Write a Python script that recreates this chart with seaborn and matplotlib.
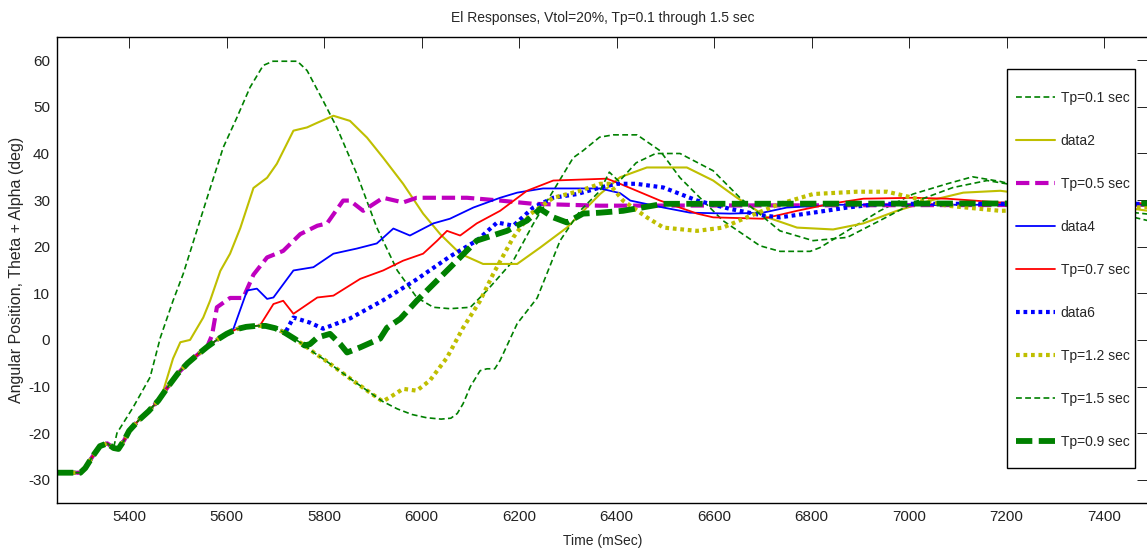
import numpy as np
import pandas as pd
import matplotlib
matplotlib.use("Agg")
import matplotlib.pyplot as plt
from matplotlib.patches import Rectangle
import seaborn as sns

# Shared early response (all runs coincide until they branch off)
base_t = [5252, 5300, 5310, 5325, 5340, 5355, 5368, 5378, 5390, 5400, 5420, 5440,
          5460, 5480, 5500, 5520, 5540, 5560, 5580, 5600, 5620, 5640, 5660, 5680,
          5700, 5720, 5740, 5760, 5780, 5800, 5830, 5860, 5890, 5920, 5950, 5980,
          6010, 6040, 6060]
base_y = [-28.5, -28.5, -27.5, -25.0, -22.8, -22.2, -23.2, -23.4, -21.5, -19.5, -17.2, -15.3,
          -13.0, -10.0, -7.2, -5.0, -3.2, -1.5, 0.0, 1.3, 2.3, 2.8, 3.0, 3.0,
          2.5, 1.5, 0.2, -1.2, -2.8, -4.2, -6.5, -8.8, -11.0, -13.2, -14.8, -16.0,
          -16.7, -17.0, -16.8]

# Each run after it leaves the shared response
tp01_t = [5375, 5408, 5443, 5464, 5490, 5511, 5560, 5593, 5621, 5648, 5675, 5695, 5745,
          5765, 5798, 5826, 5867, 5908, 5950, 5990, 6024, 6058, 6100, 6134, 6188, 6229,
          6270, 6311, 6331, 6365, 6393, 6442, 6489, 6530, 6571, 6618, 6694, 6735, 6797,
          6817, 6873, 6940, 7008, 7078, 7130, 7187, 7300, 7400, 7490]
tp01_y = [-20.0, -14.5, -8.0, 0.5, 8.4, 14.2, 30.5, 41.3, 47.7, 54.2, 58.9, 59.8, 59.8,
          57.8, 51.3, 45.6, 35.6, 24.1, 14.9, 9.1, 7.0, 6.7, 7.0, 10.6, 17.0, 24.9,
          32.0, 39.1, 40.6, 43.5, 44.0, 44.0, 40.6, 34.8, 30.5, 25.6, 20.2, 19.0, 19.0,
          19.8, 23.4, 27.7, 31.3, 33.5, 35.0, 34.0, 31.0, 28.0, 27.0]

data2_t = [5470, 5490, 5505, 5525, 5552, 5566, 5587, 5607, 5628, 5655, 5683, 5703, 5737,
           5765, 5786, 5819, 5853, 5888, 5921, 5962, 6003, 6038, 6079, 6126, 6196, 6243,
           6298, 6366, 6407, 6462, 6544, 6598, 6647, 6709, 6770, 6844, 6906, 6975, 7043,
           7111, 7187, 7300, 7490]
data2_y = [-10.9, -4.0, -0.5, 0.0, 4.8, 8.4, 14.8, 18.5, 24.0, 32.6, 34.8, 37.8, 44.9,
           45.6, 46.6, 48.1, 47.0, 43.4, 39.1, 33.5, 27.1, 22.7, 18.5, 16.3, 16.3, 19.8,
           24.1, 31.3, 34.9, 37.0, 37.0, 34.2, 30.5, 26.3, 24.1, 23.7, 25.0, 27.7, 29.9,
           31.6, 32.0, 30.5, 27.7]

tp05_t = [5570, 5580, 5607, 5634, 5655, 5683, 5716, 5751, 5786, 5806, 5839, 5853, 5880,
          5921, 5962, 5990, 6093, 6161, 6229, 6366, 7490]
tp05_y = [1.0, 7.0, 9.0, 9.0, 14.0, 17.7, 19.1, 22.7, 24.5, 25.0, 29.9, 29.9, 27.7,
          30.5, 29.5, 30.5, 30.5, 29.9, 29.2, 28.8, 29.0]

data4_t = [5614, 5642, 5662, 5683, 5696, 5737, 5778, 5819, 5867, 5908, 5942, 5976, 6024,
           6058, 6106, 6161, 6196, 6249, 6366, 6407, 6428, 6496, 6551, 6633, 6700, 6749,
           6850, 7490]
data4_y = [2.4, 10.6, 11.0, 8.8, 9.1, 14.9, 15.6, 18.5, 19.6, 20.7, 23.9, 22.4, 25.0,
           26.0, 28.4, 30.5, 31.6, 32.5, 32.5, 31.5, 29.9, 28.4, 27.3, 27.1, 27.3, 28.4,
           29.0, 29.0]

tp07_t = [5669, 5696, 5716, 5737, 5786, 5819, 5874, 5921, 5962, 6003, 6032, 6052, 6079,
          6113, 6161, 6216, 6270, 6380, 6407, 6489, 6565, 6598, 6700, 6770, 6838, 6906,
          7008, 7078, 7187, 7490]
tp07_y = [3.2, 7.7, 8.4, 5.6, 9.1, 9.5, 13.1, 14.9, 17.0, 18.5, 21.3, 23.4, 22.4,
          25.0, 27.7, 32.0, 34.2, 34.6, 33.5, 29.9, 27.1, 26.3, 26.0, 27.7, 29.2, 30.3,
          30.5, 30.3, 29.5, 29.3]

data6_t = [5737, 5771, 5798, 5853, 5921, 5990, 6058, 6113, 6155, 6188, 6229, 6270, 6319,
           6366, 6400, 6440, 6496, 6565, 6633, 6700, 6735, 6803, 6873, 6940, 7490]
data6_y = [4.8, 3.7, 2.4, 4.6, 8.5, 13.0, 17.9, 21.3, 25.2, 24.5, 28.4, 30.5, 31.3,
           32.7, 33.5, 33.5, 32.7, 29.9, 28.1, 26.7, 26.3, 27.3, 28.4, 29.2, 29.2]

tp12_t = [5935, 5962, 5990, 6017, 6052, 6085, 6120, 6147, 6188, 6223, 6270, 6325, 6366,
          6385, 6413, 6462, 6496, 6565, 6618, 6667, 6735, 6803, 6893, 6955, 7008, 7078,
          7187, 7490]
tp12_y = [-12.3, -10.5, -10.9, -8.7, -3.8, 2.6, 8.4, 14.2, 22.0, 27.0, 30.5, 32.0, 33.5,
          33.5, 29.9, 26.3, 24.1, 23.4, 24.1, 26.3, 29.2, 31.3, 31.8, 31.8, 30.5, 28.8,
          27.7, 28.5]

tp15_t = [6073, 6085, 6100, 6120, 6134, 6150, 6161, 6196, 6237, 6284, 6325, 6366, 6385,
          6405, 6440, 6480, 6530, 6598, 6653, 6735, 6803, 6873, 6940, 7020, 7090, 7160,
          7200, 7350, 7490]
tp15_y = [-15.8, -13.7, -10.0, -6.6, -6.2, -6.2, -4.4, 3.5, 9.0, 21.3, 27.7, 32.0, 36.0,
          34.0, 38.0, 40.0, 40.0, 36.3, 30.5, 23.4, 21.3, 22.0, 25.6, 30.0, 32.7, 34.2,
          33.5, 29.0, 25.6]

tp09_t = [5771, 5786, 5812, 5833, 5847, 5874, 5915, 5929, 5956, 5990, 6058, 6113, 6175,
          6216, 6243, 6270, 6298, 6331, 6366, 6413, 6496, 7490]
tp09_y = [-0.9, 0.5, 1.3, -0.9, -2.7, -1.6, 0.3, 2.6, 4.5, 8.4, 15.5, 21.3, 23.4,
          25.6, 28.1, 26.3, 25.2, 27.1, 27.3, 27.7, 29.2, 29.3]

GREEN = "#008000"
OLIVE = "#bfbf00"
MAGENTA = "#bf00bf"
BLUE = "#0000ff"
RED = "#ff0000"

series = [
    ("Tp=0.1 sec", tp01_t, tp01_y, GREEN, 1.2, (0, (3.5, 2.0))),
    ("data2", data2_t, data2_y, OLIVE, 1.5, "-"),
    ("Tp=0.5 sec", tp05_t, tp05_y, MAGENTA, 3.0, (0, (3.2, 1.4))),
    ("data4", data4_t, data4_y, BLUE, 1.3, "-"),
    ("Tp=0.7 sec", tp07_t, tp07_y, RED, 1.3, "-"),
    ("data6", data6_t, data6_y, BLUE, 3.0, (0, (0.9, 0.9))),
    ("Tp=1.2 sec", tp12_t, tp12_y, OLIVE, 3.0, (0, (0.9, 0.9))),
    ("Tp=1.5 sec", tp15_t, tp15_y, GREEN, 1.2, (0, (3.5, 2.0))),
    ("Tp=0.9 sec", tp09_t, tp09_y, GREEN, 4.2, (0, (2.8, 1.1))),
]

sns.set_theme(style="white")
plt.rcParams["font.family"] = ["Liberation Sans", "DejaVu Sans"]
plt.rcParams["axes.unicode_minus"] = False

fig = plt.figure(figsize=(11.47, 5.52), dpi=100)
ax = fig.add_axes([57 / 1147, 49 / 552, 1091 / 1147, 466 / 552])

for label, t, y, color, lw, ls in series:
    # prepend the shared response up to the branch point
    pre_t = [bt for bt in base_t if bt < t[0]]
    pre_y = base_y[:len(pre_t)]
    frame = pd.DataFrame({"t": pre_t + list(t), "y": pre_y + list(y)})
    sns.lineplot(data=frame, x="t", y="y", ax=ax, color=color, linewidth=lw,
                 linestyle=ls, label=label, estimator=None, sort=False)

ax.set_xlim(5252, 7490)
ax.set_ylim(-35, 65)
ax.set_xticks(np.arange(5400, 7401, 200))
ax.set_yticks(np.arange(-30, 61, 10))
ax.tick_params(direction="in", length=8, width=0.7, colors="#222222",
               top=True, right=True, labelsize=11, pad=5)
for side in ax.spines.values():
    side.set_color("black")
    side.set_linewidth(1.0)

ax.set_title("El Responses, Vtol=20%, Tp=0.1 through 1.5 sec", fontsize=10, pad=11)
ax.set_xlabel("Time (mSec)", fontsize=10, labelpad=7)
ax.set_ylabel("Angular Position, Theta + Alpha (deg)", fontsize=11.5)
ax.yaxis.set_label_coords(-0.030, 0.5)

# legend box: a tall white panel with generous vertical padding
panel = Rectangle((0.8708, 0.0751), 0.988 - 0.8708, 0.9313 - 0.0751,
                  transform=ax.transAxes, facecolor="white", edgecolor="black",
                  linewidth=1.0, zorder=4.9)
ax.add_patch(panel)
leg = ax.legend(loc="upper left", bbox_to_anchor=(0.879, 0.884), borderaxespad=0,
                fontsize=10, frameon=False, handlelength=2.8, handletextpad=0.42,
                labelspacing=2.09, borderpad=0.0)

fig.savefig("out.png", dpi=100)
